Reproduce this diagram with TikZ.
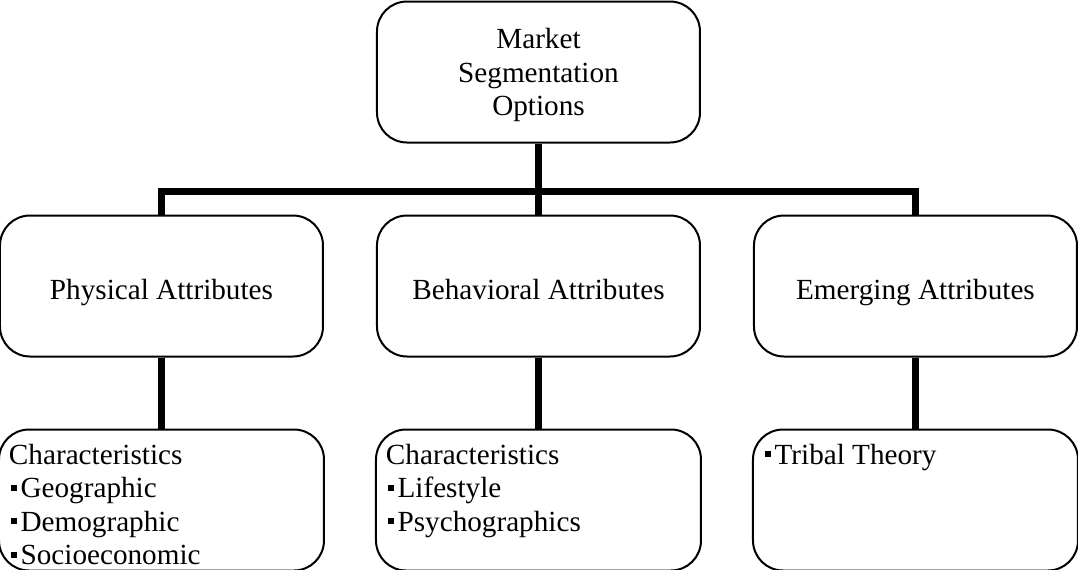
\documentclass[tikz,border=0pt]{standalone}
\usepackage{fontspec}
\setmainfont{Liberation Serif}
\usetikzlibrary{positioning}

\newcommand{\sqb}{\hspace*{1.2pt}\rule[3.5pt]{3pt}{3pt}\hspace*{1.6pt}}
\newcommand{\leaftext}[1]{\parbox[c][55.9pt][t]{152.5pt}{\raggedright #1}}

\begin{document}
\begin{tikzpicture}[
  node distance=35.5pt and 26pt,
  every node/.style={font=\fontsize{14.6pt}{16.7pt}\selectfont},
  box/.style ={draw, line width=1pt, rounded corners=15pt, minimum width=161.5pt, minimum height=70.5pt, fill=white},
  head/.style={box, align=center, text depth=0pt},
  attr/.style={box, align=center, text height=13pt, text depth=0pt},
  leaf/.style={box, inner xsep=5pt, inner ysep=7.3pt},
  link/.style={line width=3.3pt},
]
\useasboundingbox (-269.25pt,36pt) rectangle (269.75pt,-248.5pt);

% top and middle row
\node[head] (market) at (0,0) {Market\\Segmentation\\Options};
\node[attr, below=of market] (behav) {Behavioral Attributes};
\node[attr, left=of behav] (phys) {Physical Attributes};
\node[attr, right=of behav] (emerg) {Emerging Attributes};

% bottom row
\node[leaf, below=of phys] (physc) {\leaftext{Characteristics\\\sqb Geographic\\\sqb Demographic\\\sqb Socioeconomic}};
\node[leaf, below=of behav] (behavc) {\leaftext{Characteristics\\\sqb Lifestyle\\\sqb Psychographics}};
\node[leaf, below=of emerg] (emergc) {\leaftext{\sqb Tribal Theory}};

% connectors
\draw[link] (market.south) -- ++(0,-24pt) coordinate (bar);
\draw[link] (phys.north) |- (bar) -| (emerg.north);
\draw[link] (bar) -- (behav.north);
\draw[link] (phys.south) -- (physc.north);
\draw[link] (behav.south) -- (behavc.north);
\draw[link] (emerg.south) -- (emergc.north);
\end{tikzpicture}
\end{document}
